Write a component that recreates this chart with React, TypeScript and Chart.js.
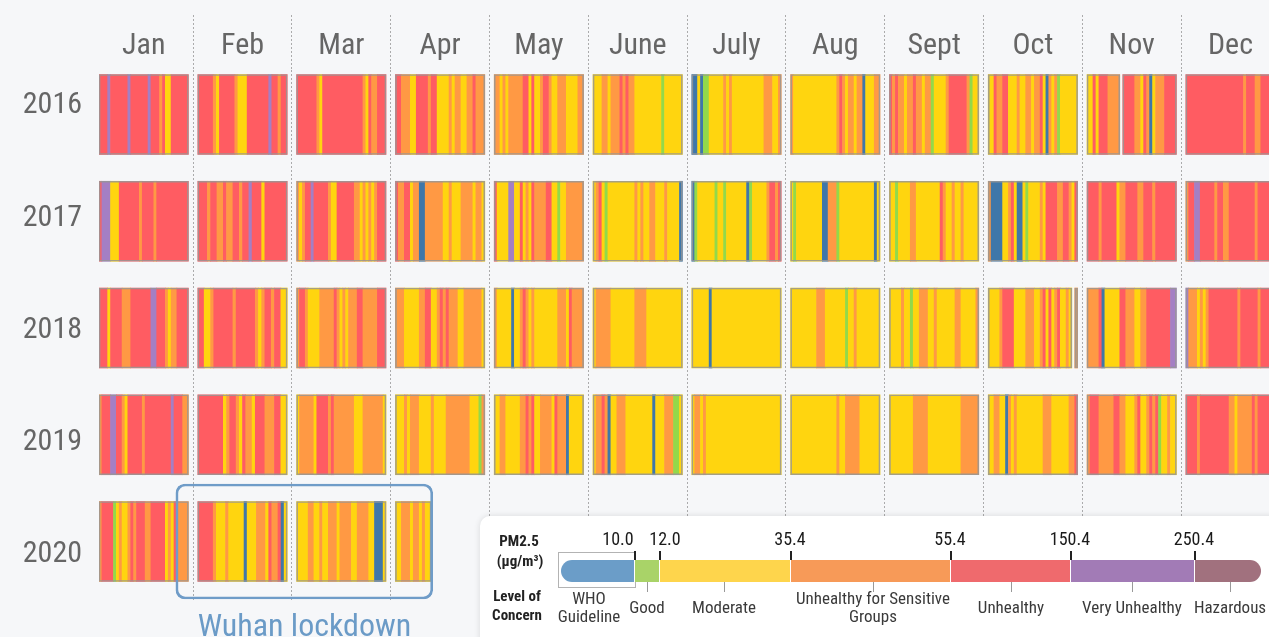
import React, { useEffect, useRef } from "react";
import { Chart, registerables } from "chart.js";

Chart.register(...registerables);

// ---------------- DATA ----------------
const MONTHS = ["Jan", "Feb", "Mar", "Apr", "May", "June", "July", "Aug", "Sept", "Oct", "Nov", "Dec"];
const YEARS = [2016, 2017, 2018, 2019, 2020];

// Daily PM2.5 level of concern per month, run-length encoded (code + number of days).
// B WHO guideline, G good, Y moderate, O unhealthy for sensitive groups,
// R unhealthy, P very unhealthy, H hazardous, - no data
const DAYS_2016 = [
  "R3 P1 R6 P1 R6 P1 R3 O1 R1 Y2 R6",
  "R5 O1 Y1 R5 O1 Y3 R7 P1 R2 O1 R2",
  "R7 O1 Y1 R14 O1 Y1 R1 O2 R3",
  "R2 O3 Y2 R4 O1 R2 Y4 O1 Y1 O2 Y2 O2 R1 O3",
  "O2 Y1 O1 Y1 O5 R2 Y1 R1 Y2 O1 R2 O1 Y2 O3 Y4 O2",
  "Y3 O2 Y1 O3 R1 O1 R1 O2 Y9 G1 Y6",
  "B2 Y1 B1 G2 Y5 O1 Y1 O1 Y11 O3 Y2 O1",
  "O1 Y15 O1 R1 O1 Y1 O2 Y1 O2 B1 Y3 O2",
  "R1 O1 R1 O2 Y1 O2 R1 O2 Y1 O2 G1 Y4 O1 R6 O1 G1 Y2",
  "Y2 R1 O2 R2 Y3 O1 Y2 O2 Y1 O2 R1 Y1 B1 O1 Y1 O1 G1 Y6",
  "Y2 R1 Y1 R3 O4 -1 R4 O2 Y1 R1 O1 B1 Y1 O3 R4",
  "R20 O1 R3 O2 R5",
];
const DAYS_2017 = [
  "R1 P3 Y3 R7 O1 R4 O1 R11",
  "R3 O1 R2 O2 R1 O2 R2 O1 R2 P1 R3 Y1 R7",
  "O1 Y1 O1 R2 P1 R5 O1 Y2 R6 O2 Y1 O1 Y1 O1 Y1 O1 R3",
  "R1 O2 R2 Y1 O2 B2 O6 Y2 O1 Y3 O4 Y1 O2 Y1",
  "R1 Y4 P2 Y2 R1 Y1 O1 Y1 R1 O4 R2 Y2 G1 Y2 O6",
  "Y1 O1 R1 Y1 G1 Y9 O1 Y1 O1 Y2 O2 Y3 O1 Y4 B1",
  "B1 G1 Y6 G1 Y2 G1 Y7 B1 G1 Y5 O1 R2 O1 R1",
  "Y1 G1 Y9 B2 O3 G1 Y12 B1 Y1",
  "Y2 G1 Y4 O2 Y8 R1 O1 Y2 O1 Y2 O1 Y5",
  "O1 B4 Y2 O1 R1 Y1 B2 Y1 G1 Y4 O1 Y1 R4 O2 R2 O1 Y1 R1",
  "R4 O1 R5 Y1 O2 R4 O2 R3 O1 R7",
  "O1 R2 P2 R5 O1 R2 O2 R9 O1 R6",
];
const DAYS_2018 = [
  "R3 Y1 R4 O3 R7 P2 R3 O1 Y1 O2 R4",
  "R2 Y2 O1 R6 O1 R6 O1 Y1 O1 R2 O1 R2 Y2",
  "O1 R2 O1 Y4 O5 R1 O1 Y1 O1 Y1 O3 R2 O5 R3",
  "O3 Y5 O2 R2 Y2 O1 R1 O1 R1 O3 Y2 O6 Y1",
  "O1 Y5 B1 Y2 O1 R1 O1 Y1 O1 Y8 O3 Y1 R1 O4",
  "Y1 O5 Y8 O4 Y12",
  "Y6 B1 Y24",
  "Y9 O3 Y7 G1 Y2 O1 Y8",
  "Y4 O1 Y2 G1 Y2 O3 Y2 O1 Y6 O2 Y5 O1",
  "Y4 O1 R4 Y4 O3 Y2 O1 R1 Y1 R1 Y1 O1 R1 Y2 O1 Y1 -1 O1",
  "O4 R1 B1 Y5 R2 O3 Y2 O2 R8 P2",
  "P1 O3 Y1 O1 Y1 O1 R10 O1 R6 O1 R5",
];
const DAYS_2019 = [
  "O1 R3 P2 R2 O1 Y1 R5 O1 R9 P1 R3 O2",
  "R8 Y1 O1 R2 O1 Y1 R1 O2 Y1 R3 O3 R2 Y2",
  "Y1 O5 Y1 R4 O1 R1 O7 Y3 O7 Y1",
  "Y3 O1 Y1 O3 Y4 O1 Y4 O8 Y3 G1 O1",
  "Y2 O2 Y5 O2 R1 O1 R1 Y2 O4 Y1 R1 O3 B1 Y5",
  "Y1 O2 R1 O1 B1 Y2 O3 Y9 B1 Y3 O3 G2 Y1",
  "Y1 O2 Y1 O1 Y26",
  "Y16 O1 Y2 O5 Y7",
  "Y8 O5 Y11 O6",
  "Y2 O2 Y2 B1 O1 Y1 O1 Y9 O3 Y6 O2 R1",
  "O1 R3 O5 R2 O2 Y3 O1 R1 Y2 O1 R1 O1 R1 G1 Y2 O1 Y2",
  "R4 O1 R10 O2 Y1 O5 R1 O1 R6",
];
const DAYS_2020 = [
  "O1 R4 G1 Y1 O1 Y2 O1 R1 O1 R3 O2 R5 Y1 O1 Y1 R1 O4",
  "R5 O1 Y3 O1 Y5 B1 Y3 O3 Y1 R1 O2 R1 B1 Y1",
  "Y4 O2 Y2 O1 Y2 O3 Y1 O4 Y2 O4 Y2 B3 Y1",
  "Y2 O3 Y1 O2 Y1 O1 Y2",
];
const DAYS_BY_YEAR = [DAYS_2016, DAYS_2017, DAYS_2018, DAYS_2019, DAYS_2020];

const LEVEL_CODES = ["B", "G", "Y", "O", "R", "P", "H"];
const LEVEL_NAMES = ["WHO\nGuideline", "Good", "Moderate", "Unhealthy for Sensitive\nGroups", "Unhealthy", "Very Unhealthy", "Hazardous"];
const PM_BREAKS = ["10.0", "12.0", "35.4", "55.4", "150.4", "250.4"];

const LOCKDOWN_LABEL = "Wuhan lockdown";
const LOCKDOWN_ROW = 4; // 2020
const LOCKDOWN_MONTHS = [1, 3]; // Feb .. Apr

// ---------------- STYLE ----------------
const FONT = '"Roboto Condensed", "Liberation Sans Narrow", "Arial Narrow", "DejaVu Sans Condensed", Roboto, sans-serif';
const BG = "#f6f7f9";
const STRIPE_COLORS: Record<string, string> = {
  B: "#3f77a9",
  G: "#93d94a",
  Y: "#ffd50f",
  O: "#ff9944",
  R: "#ff5c62",
  P: "#a47fc4",
  H: "#a06d7a",
};
const LEGEND_COLORS = ["#6b9dc8", "#a9d368", "#fed54c", "#f79a58", "#ef6a6d", "#a27bb6", "#a1717e"];
const LEGEND_SEG_W = [73, 25, 131, 160, 120, 124, 67];
const LEGEND_LABEL_X = [109, 167, 244, 393, 531, 652, 750];
const GRID = "rgba(110,110,110,0.55)";
const PANEL = 0.905;

function expand(rle: string): string[] {
  const out: string[] = [];
  rle.trim().split(/\s+/).forEach((tok) => {
    const c = tok[0];
    const n = parseInt(tok.slice(1), 10);
    for (let i = 0; i < n; i++) out.push(c);
  });
  return out;
}
function daysInMonth(y: number, m: number) {
  return new Date(y, m + 1, 0).getDate();
}

function buildData() {
  const dayPts: any[] = [];
  const dayColors: string[] = [];
  const framePts: any[] = [];
  DAYS_BY_YEAR.forEach((months, row) => {
    months.forEach((rle, m) => {
      const days = expand(rle);
      const dw = PANEL / daysInMonth(YEARS[row], m);
      let i = 0;
      while (i < days.length) {
        let j = i;
        while (j < days.length && days[j] === days[i]) j++;
        if (days[i] !== "-") {
          dayPts.push({ x: [m + i * dw, m + j * dw], y: row });
          dayColors.push(STRIPE_COLORS[days[i]]);
        }
        i = j;
      }
      i = 0;
      while (i < days.length) {
        if (days[i] === "-") { i++; continue; }
        let j = i;
        while (j < days.length && days[j] !== "-") j++;
        framePts.push({ x: [m + i * dw, m + j * dw], y: row });
        i = j;
      }
    });
  });
  return { dayPts, dayColors, framePts };
}

function Legend() {
  const abs = (x: number, y: number, extra: any = {}) => ({
    position: "absolute" as const,
    left: x,
    top: y,
    transform: "translate(-50%, -50%)",
    whiteSpace: "pre" as const,
    textAlign: "center" as const,
    lineHeight: 1.08,
    ...extra,
  });
  let acc = 81;
  const bounds = LEGEND_SEG_W.map((w) => (acc += w));
  return (
    <div
      style={{
        position: "absolute",
        left: 480,
        top: 516,
        width: 830,
        height: 150,
        background: "#fff",
        borderRadius: 10,
        boxShadow: "0 0 6px rgba(0,0,0,0.12)",
        fontFamily: FONT,
        color: "#333",
      }}
    >
      <div style={abs(39, 25, { fontWeight: 700, fontSize: 15, color: "#222" })}>PM2.5</div>
      <div style={abs(40, 45, { fontWeight: 700, fontSize: 15, color: "#222" })}>(µg/m³)</div>
      <div style={abs(37, 90, { fontWeight: 700, fontSize: 15, color: "#222", lineHeight: 1.25 })}>{"Level of\nConcern"}</div>
      <div style={{ position: "absolute", left: 78, top: 36, width: 76, height: 34, border: "1px solid #b3b3b3" }} />
      <div
        style={{
          position: "absolute",
          left: 81,
          top: 44,
          height: 22,
          display: "flex",
          borderRadius: 11,
          overflow: "hidden",
        }}
      >
        {LEVEL_CODES.map((c, i) => (
          <div
            key={c}
            style={{
              width: LEGEND_SEG_W[i],
              height: 22,
              background: LEGEND_COLORS[i],
              boxSizing: "border-box",
              borderLeft: i > 0 ? "1px solid #fff" : "none",
            }}
          />
        ))}
      </div>
      {PM_BREAKS.map((b, i) => (
        <React.Fragment key={b}>
          <div style={{ position: "absolute", left: bounds[i], top: 35, width: 1.5, height: 9, background: "#222" }} />
          <div
            style={abs(i === 0 ? bounds[i] - 16 : i === 1 ? bounds[i] + 6 : bounds[i], 23, {
              fontSize: 18,
              color: "#1a1a1a",
            })}
          >
            {b}
          </div>
        </React.Fragment>
      ))}
      {LEVEL_NAMES.map((n, i) => (
        <React.Fragment key={n}>
          {i > 0 && (
            <div style={{ position: "absolute", left: LEGEND_LABEL_X[i], top: 66, width: 1, height: 10, background: "#999" }} />
          )}
          <div style={abs(LEGEND_LABEL_X[i], 91, { fontSize: 17, color: "#3a3a3a" })}>{n}</div>
        </React.Fragment>
      ))}
    </div>
  );
}

export default function App() {
  const ref = useRef<HTMLCanvasElement | null>(null);

  useEffect(() => {
    document.body.style.margin = "0";
    document.body.style.background = BG;
    const { dayPts, dayColors, framePts } = buildData();
    const lockPts = [{ x: [LOCKDOWN_MONTHS[0] - 0.222, LOCKDOWN_MONTHS[1] + 0.378], y: LOCKDOWN_ROW }];
    const axisFont = { family: FONT, size: 30 };
    const chart = new Chart(ref.current as HTMLCanvasElement, {
      type: "bar",
      data: {
        datasets: [
          {
            data: dayPts as any,
            backgroundColor: dayColors,
            borderWidth: 0,
            barThickness: 80,
            grouped: false,
            order: 3,
          } as any,
          {
            data: framePts as any,
            backgroundColor: "rgba(0,0,0,0)",
            borderColor: "rgba(150,150,150,0.85)",
            borderWidth: 1,
            borderSkipped: false,
            barThickness: 80,
            grouped: false,
            order: 2,
          } as any,
          {
            data: lockPts as any,
            backgroundColor: "rgba(0,0,0,0)",
            borderColor: "#6f9cc8",
            borderWidth: 2,
            borderRadius: 9,
            borderSkipped: false,
            barThickness: 115,
            grouped: false,
            order: 1,
          } as any,
        ],
      },
      options: {
        indexAxis: "y",
        animation: false,
        responsive: false,
        events: [],
        layout: { padding: { top: 0, left: 0, right: 0, bottom: 37 } },
        plugins: { legend: { display: false }, tooltip: { enabled: false } },
        scales: {
          x: {
            type: "linear",
            position: "top",
            min: 0,
            max: 11.842,
            bounds: "data",
            offset: false,
            afterBuildTicks: (s: any) => {
              s.ticks = MONTHS.map((_, i) => ({ value: i + PANEL / 2 }));
            },
            afterFit: (s: any) => {
              s.height = 70;
            },
            ticks: {
              autoSkip: false,
              maxRotation: 0,
              minRotation: 0,
              padding: -49,
              color: "#666",
              font: axisFont,
              callback: (_v: any, i: number) => MONTHS[i],
            },
            grid: {
              offset: true,
              color: GRID,
              lineWidth: 1,
              tickLength: 55,
              tickColor: GRID,
              tickWidth: 1,
              tickBorderDash: [2, 2],
            },
            border: { display: false, dash: [2, 2] },
          },
          y: {
            type: "linear",
            display: false,
            reverse: true,
            offset: false,
            min: -0.4169,
            max: 4.548,
            bounds: "data",
            afterBuildTicks: (s: any) => {
              s.ticks = YEARS.map((_, i) => ({ value: i }));
            },
            grid: { offset: false },
          },
          y2: {
            type: "linear",
            position: "left",
            reverse: true,
            offset: false,
            min: -0.32,
            max: 4.405,
            bounds: "data",
            afterBuildTicks: (s: any) => {
              s.ticks = YEARS.map((_, i) => ({ value: i }));
            },
            afterFit: (s: any) => {
              s.width = 99;
            },
            ticks: {
              autoSkip: false,
              padding: 17,
              color: "#666",
              font: axisFont,
              callback: (v: any) => String(YEARS[Math.round(Number(v))]),
            },
            grid: { display: false, drawTicks: false, offset: false },
            border: { display: false },
          },
        },
      } as any,
    });
    return () => chart.destroy();
  }, []);

  return (
    <div style={{ position: "relative", width: 1269, height: 637, overflow: "hidden", background: BG }}>
      <canvas ref={ref} width={1269} height={637} style={{ display: "block" }} />
      <div
        style={{
          position: "absolute",
          left: 304.5,
          top: 609,
          transform: "translateX(-50%)",
          fontFamily: FONT,
          fontSize: 32,
          lineHeight: 1,
          color: "#6b9bc7",
          whiteSpace: "nowrap",
        }}
      >
        {LOCKDOWN_LABEL}
      </div>
      <Legend />
    </div>
  );
}
